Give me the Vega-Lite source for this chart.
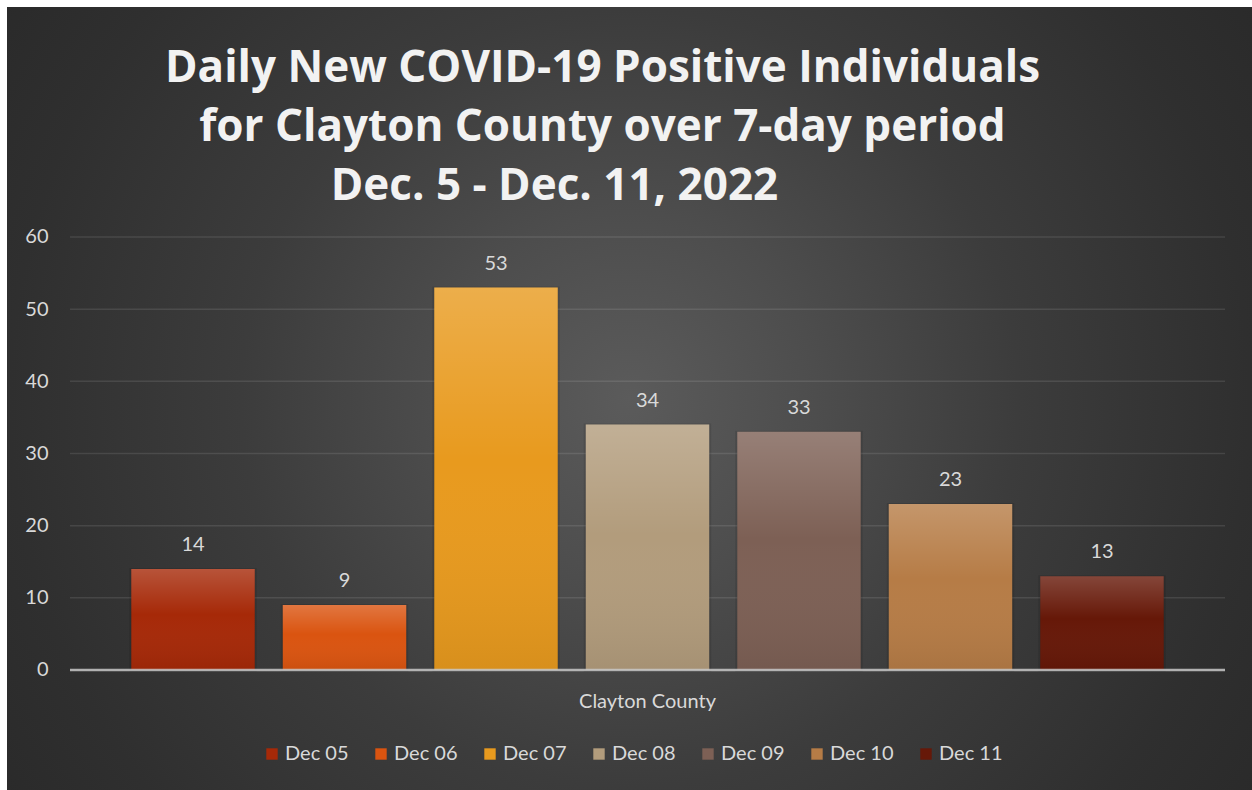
{
  "$schema": "https://vega.github.io/schema/vega-lite/v6.json",
  "width": 1245,
  "height": 783,
  "autosize": {"type": "none"},
  "padding": {"left": 7, "top": 7, "right": 0, "bottom": 0},
  "background": "#ffffff",
  "title": {
    "text": ["Daily New COVID-19 Positive Individuals", "for Clayton County over 7-day period", "Dec. 5 - Dec. 11, 2022\u2800\u2800\u2800"],
    "orient": "top",
    "anchor": "middle",
    "frame": "group",
    "offset": -202,
    "baseline": "top",
    "dx": -27,
    "font": "Open Sans",
    "fontSize": 44,
    "fontWeight": "bold",
    "color": "#f2f2f2",
    "lineHeight": 59
  },
  "config": {
    "font": "Lato",
    "view": {
      "stroke": null,
      "fill": {
        "gradient": "radial",
        "x1": 0.5, "y1": 0.5, "r1": 0,
        "x2": 0.5, "y2": 0.5, "r2": 0.6,
        "stops": [
          {"offset": 0, "color": "#5b5b5b"},
          {"offset": 0.25, "color": "#4d4d4d"},
          {"offset": 0.52, "color": "#3c3c3c"},
          {"offset": 0.83, "color": "#2f2f2f"},
          {"offset": 1, "color": "#2a2a2a"}
        ]
      }
    }
  },
  "encoding": {
    "x": {
      "field": "county",
      "type": "nominal",
      "scale": {"paddingInner": 0, "paddingOuter": 0.03896, "align": 0.7},
      "axis": {
        "orient": "bottom",
        "offset": -120,
        "domain": false,
        "ticks": false,
        "grid": false,
        "labelPadding": 21,
        "labelAngle": 0,
        "labelFont": "Lato",
        "labelFontSize": 20,
        "labelColor": "#d9d9d9",
        "title": null
      }
    },
    "y": {
      "field": "value",
      "type": "quantitative",
      "stack": null,
      "scale": {"domain": [-16.63, 91.87], "nice": false, "zero": false},
      "axis": {
        "orient": "left",
        "offset": -63,
        "values": [0, 10, 20, 30, 40, 50, 60],
        "domain": false,
        "ticks": false,
        "grid": false,
        "labelPadding": 22,
        "labelFont": "Lato",
        "labelFontSize": 20,
        "labelColor": "#d9d9d9",
        "title": null
      }
    }
  },
  "layer": [
    {
      "data": {"values": [
        {"county": "Clayton County", "value": 10},
        {"county": "Clayton County", "value": 20},
        {"county": "Clayton County", "value": 30},
        {"county": "Clayton County", "value": 40},
        {"county": "Clayton County", "value": 50},
        {"county": "Clayton County", "value": 60}
      ]},
      "mark": {"type": "bar", "fill": "transparent", "stroke": "#ffffff", "strokeOpacity": 0.1, "strokeWidth": 1.5},
      "encoding": {"y2": {"field": "value"}}
    },
    {
      "data": {"name": "days", "values": [
        {"county": "Clayton County", "day": "Dec 05", "value": 14},
        {"county": "Clayton County", "day": "Dec 06", "value": 9},
        {"county": "Clayton County", "day": "Dec 07", "value": 53},
        {"county": "Clayton County", "day": "Dec 08", "value": 34},
        {"county": "Clayton County", "day": "Dec 09", "value": 33},
        {"county": "Clayton County", "day": "Dec 10", "value": 23},
        {"county": "Clayton County", "day": "Dec 11", "value": 13}
      ]},
      "layer": [
        {
          "mark": {"type": "bar", "fill": "#000000", "fillOpacity": 0.1, "stroke": "#000000", "strokeOpacity": 0.1, "strokeWidth": 4, "xOffset": 1, "yOffset": 1},
          "encoding": {
            "xOffset": {"field": "day", "type": "nominal", "scale": {"paddingInner": 0.185, "paddingOuter": 0.4045}},
            "y2": {"datum": 0}
          }
        },
        {
          "mark": {"type": "bar"},
          "encoding": {
            "xOffset": {"field": "day", "type": "nominal"},
            "y2": {"datum": 0},
            "color": {
              "field": "day",
              "type": "nominal",
              "scale": {
                "domain": ["Dec 05", "Dec 06", "Dec 07", "Dec 08", "Dec 09", "Dec 10", "Dec 11"],
                "range": ["#a62908", "#da5410", "#e89a1e", "#b29c7c", "#7d6055", "#b67c46", "#661808"]
              },
              "legend": {
                "orient": "none",
                "legendX": 255,
                "legendY": 737,
                "direction": "horizontal",
                "columns": 7,
                "title": null,
                "symbolType": "square",
                "symbolSize": 130,
                "symbolStrokeWidth": 0,
                "labelFont": "Lato",
                "labelFontSize": 20,
                "labelColor": "#d9d9d9",
                "labelOffset": 3,
                "columnPadding": 22,
                "gridAlign": "all"
              }
            }
          }
        },
        {
          "mark": {
            "type": "bar",
            "fill": {
              "gradient": "linear",
              "x1": 0, "y1": 0, "x2": 0, "y2": 1,
              "stops": [
                {"offset": 0, "color": "rgba(255,255,255,0.2)"},
                {"offset": 0.45, "color": "rgba(255,255,255,0)"},
                {"offset": 1, "color": "rgba(0,0,0,0.07)"}
              ]
            }
          },
          "encoding": {
            "xOffset": {"field": "day", "type": "nominal"},
            "y2": {"datum": 0}
          }
        },
        {
          "mark": {"type": "text", "baseline": "alphabetic", "dy": -18, "font": "Lato", "fontSize": 20, "fill": "#d9d9d9"},
          "encoding": {
            "xOffset": {"field": "day", "type": "nominal"},
            "text": {"field": "value", "type": "quantitative"}
          }
        }
      ]
    },
    {
      "data": {"values": [{"county": "Clayton County", "value": 0}]},
      "mark": {"type": "bar", "fill": "transparent", "stroke": "#c8c8c8", "strokeOpacity": 0.85, "strokeWidth": 2.5},
      "encoding": {"y2": {"field": "value"}}
    }
  ]
}
